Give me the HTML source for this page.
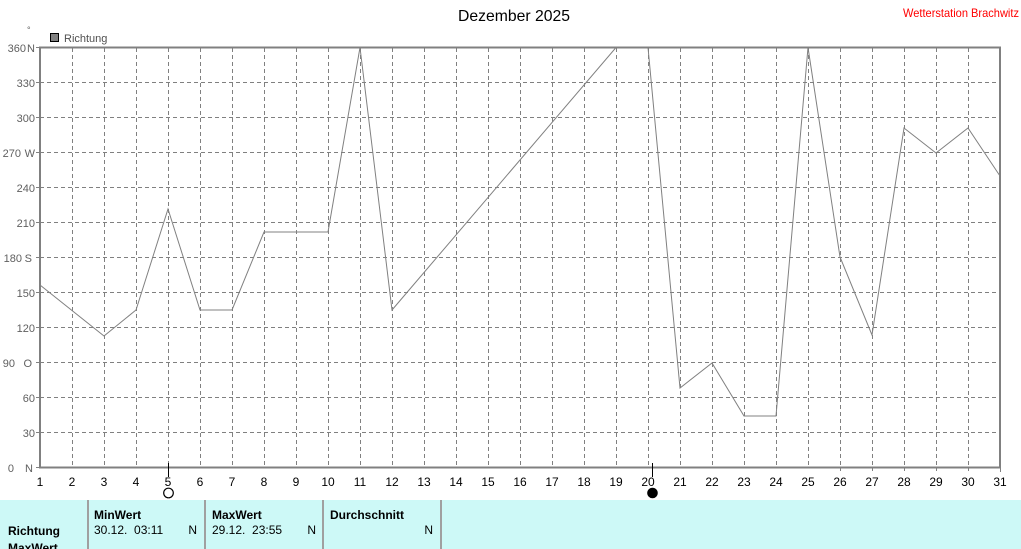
<!DOCTYPE html>
<html><head><meta charset="utf-8"><style>
html,body{margin:0;padding:0;background:#fff;}
body{width:1021px;height:549px;overflow:hidden;position:relative;font-family:"Liberation Sans",Arial,sans-serif;}
svg{position:absolute;left:0;top:0;}
</style></head><body>
<svg width="1021" height="549" viewBox="0 0 1021 549" xmlns="http://www.w3.org/2000/svg" font-family="Liberation Sans, Arial, sans-serif">
<rect x="0" y="0" width="1021" height="549" fill="#fff"/>
<text x="514" y="21" font-size="16" text-anchor="middle" fill="#000" textLength="112" lengthAdjust="spacingAndGlyphs">Dezember 2025</text>
<text x="1019" y="17" font-size="12" text-anchor="end" fill="#ff0000" textLength="116" lengthAdjust="spacingAndGlyphs">Wetterstation Brachwitz</text>
<text x="27" y="33" font-size="9" fill="#606060">°</text>
<rect x="50.5" y="33.5" width="8" height="8" fill="#808080" stroke="#000" stroke-width="1"/>
<text x="64" y="42" font-size="11" fill="#505050">Richtung</text>

<g stroke="#808080" stroke-width="1" stroke-dasharray="4 3" fill="none">
<line x1="40" y1="82.5" x2="1000" y2="82.5"/>
<line x1="40" y1="117.5" x2="1000" y2="117.5"/>
<line x1="40" y1="152.5" x2="1000" y2="152.5"/>
<line x1="40" y1="187.5" x2="1000" y2="187.5"/>
<line x1="40" y1="222.5" x2="1000" y2="222.5"/>
<line x1="40" y1="257.5" x2="1000" y2="257.5"/>
<line x1="40" y1="292.5" x2="1000" y2="292.5"/>
<line x1="40" y1="327.5" x2="1000" y2="327.5"/>
<line x1="40" y1="362.5" x2="1000" y2="362.5"/>
<line x1="40" y1="397.5" x2="1000" y2="397.5"/>
<line x1="40" y1="432.5" x2="1000" y2="432.5"/>
<line x1="72.5" y1="48" x2="72.5" y2="467"/>
<line x1="104.5" y1="48" x2="104.5" y2="467"/>
<line x1="136.5" y1="48" x2="136.5" y2="467"/>
<line x1="168.5" y1="48" x2="168.5" y2="467"/>
<line x1="200.5" y1="48" x2="200.5" y2="467"/>
<line x1="232.5" y1="48" x2="232.5" y2="467"/>
<line x1="264.5" y1="48" x2="264.5" y2="467"/>
<line x1="296.5" y1="48" x2="296.5" y2="467"/>
<line x1="328.5" y1="48" x2="328.5" y2="467"/>
<line x1="360.5" y1="48" x2="360.5" y2="467"/>
<line x1="392.5" y1="48" x2="392.5" y2="467"/>
<line x1="424.5" y1="48" x2="424.5" y2="467"/>
<line x1="456.5" y1="48" x2="456.5" y2="467"/>
<line x1="488.5" y1="48" x2="488.5" y2="467"/>
<line x1="520.5" y1="48" x2="520.5" y2="467"/>
<line x1="552.5" y1="48" x2="552.5" y2="467"/>
<line x1="584.5" y1="48" x2="584.5" y2="467"/>
<line x1="616.5" y1="48" x2="616.5" y2="467"/>
<line x1="648.5" y1="48" x2="648.5" y2="467"/>
<line x1="680.5" y1="48" x2="680.5" y2="467"/>
<line x1="712.5" y1="48" x2="712.5" y2="467"/>
<line x1="744.5" y1="48" x2="744.5" y2="467"/>
<line x1="776.5" y1="48" x2="776.5" y2="467"/>
<line x1="808.5" y1="48" x2="808.5" y2="467"/>
<line x1="840.5" y1="48" x2="840.5" y2="467"/>
<line x1="872.5" y1="48" x2="872.5" y2="467"/>
<line x1="904.5" y1="48" x2="904.5" y2="467"/>
<line x1="936.5" y1="48" x2="936.5" y2="467"/>
<line x1="968.5" y1="48" x2="968.5" y2="467"/>
</g>

<polyline fill="none" stroke="#808080" stroke-width="1" points="40,285 104,336 136,310 168,209 200,310 232,310 264,232 296,232 328,232 360,47.5 392,310 616,47.5 648,47.5 680,388 712,363 744,416 776,416 808,47.5 840,257 872,335 904,128 936,153 968,128 1000,176"/>

<g stroke="#808080" stroke-width="1">
<line x1="36" y1="47.5" x2="40" y2="47.5"/>
<line x1="36" y1="82.5" x2="40" y2="82.5"/>
<line x1="36" y1="117.5" x2="40" y2="117.5"/>
<line x1="36" y1="152.5" x2="40" y2="152.5"/>
<line x1="36" y1="187.5" x2="40" y2="187.5"/>
<line x1="36" y1="222.5" x2="40" y2="222.5"/>
<line x1="36" y1="257.5" x2="40" y2="257.5"/>
<line x1="36" y1="292.5" x2="40" y2="292.5"/>
<line x1="36" y1="327.5" x2="40" y2="327.5"/>
<line x1="36" y1="362.5" x2="40" y2="362.5"/>
<line x1="36" y1="397.5" x2="40" y2="397.5"/>
<line x1="36" y1="432.5" x2="40" y2="432.5"/>
<line x1="36" y1="467.5" x2="40" y2="467.5"/>
</g>
<rect x="40" y="47.5" width="960" height="420" fill="none" stroke="#808080" stroke-width="2"/>
<g stroke="#808080" stroke-width="1">
<line x1="1000.5" y1="468" x2="1000.5" y2="472"/>
<line x1="968.5" y1="468" x2="968.5" y2="471"/>
<line x1="936.5" y1="468" x2="936.5" y2="471"/>
<line x1="904.5" y1="468" x2="904.5" y2="471"/>
<line x1="872.5" y1="468" x2="872.5" y2="471"/>
<line x1="840.5" y1="468" x2="840.5" y2="471"/>
</g>

<g font-size="11" fill="#606060">
<text x="26" y="52" text-anchor="end">360</text><text x="27" y="52">N</text>
<text x="35" y="87" text-anchor="end">330</text>
<text x="35" y="122" text-anchor="end">300</text>
<text x="21" y="157" text-anchor="end">270</text><text x="35" y="157" text-anchor="end">W</text>
<text x="35" y="192" text-anchor="end">240</text>
<text x="35" y="227" text-anchor="end">210</text>
<text x="22" y="262" text-anchor="end">180</text><text x="32" y="262" text-anchor="end">S</text>
<text x="35" y="297" text-anchor="end">150</text>
<text x="35" y="332" text-anchor="end">120</text>
<text x="15" y="367" text-anchor="end">90</text><text x="32" y="367" text-anchor="end">O</text>
<text x="35" y="402" text-anchor="end">60</text>
<text x="35" y="437" text-anchor="end">30</text>
<text x="14" y="472" text-anchor="end">0</text><text x="33" y="472" text-anchor="end">N</text>
</g>

<g font-size="12" fill="#000" text-anchor="middle">
<text x="40" y="486">1</text><text x="72" y="486">2</text><text x="104" y="486">3</text><text x="136" y="486">4</text><text x="168" y="486">5</text><text x="200" y="486">6</text><text x="232" y="486">7</text><text x="264" y="486">8</text><text x="296" y="486">9</text><text x="328" y="486">10</text><text x="360" y="486">11</text><text x="392" y="486">12</text><text x="424" y="486">13</text><text x="456" y="486">14</text><text x="488" y="486">15</text><text x="520" y="486">16</text><text x="552" y="486">17</text><text x="584" y="486">18</text><text x="616" y="486">19</text><text x="648" y="486">20</text><text x="680" y="486">21</text><text x="712" y="486">22</text><text x="744" y="486">23</text><text x="776" y="486">24</text><text x="808" y="486">25</text><text x="840" y="486">26</text><text x="872" y="486">27</text><text x="904" y="486">28</text><text x="936" y="486">29</text><text x="968" y="486">30</text><text x="1000" y="486">31</text>
</g>

<line x1="168.5" y1="463" x2="168.5" y2="477" stroke="#000" stroke-width="1"/>
<circle cx="168.5" cy="493" r="4.8" fill="#fff" stroke="#000" stroke-width="1.2"/>
<line x1="652.5" y1="463" x2="652.5" y2="477" stroke="#000" stroke-width="1"/>
<circle cx="652.5" cy="493" r="4.8" fill="#000" stroke="#000" stroke-width="1"/>

<rect x="0" y="500" width="1021" height="49" fill="#cdf9f7"/>
<g stroke="#a0a0a0" stroke-width="2">
<line x1="88" y1="500" x2="88" y2="549"/>
<line x1="205" y1="500" x2="205" y2="549"/>
<line x1="323" y1="500" x2="323" y2="549"/>
<line x1="441" y1="500" x2="441" y2="549"/>
</g>
<g font-size="12" fill="#000">
<text x="8" y="535" font-weight="bold">Richtung</text>
<text x="8" y="552" font-weight="bold">MaxWert</text>
<text x="94" y="519" font-weight="bold">MinWert</text>
<text x="94" y="534" xml:space="preserve">30.12.  03:11</text>
<text x="197" y="534" text-anchor="end">N</text>
<text x="212" y="519" font-weight="bold">MaxWert</text>
<text x="212" y="534" xml:space="preserve">29.12.  23:55</text>
<text x="316" y="534" text-anchor="end">N</text>
<text x="330" y="519" font-weight="bold">Durchschnitt</text>
<text x="433" y="534" text-anchor="end">N</text>
</g>
</svg>
</body></html>
